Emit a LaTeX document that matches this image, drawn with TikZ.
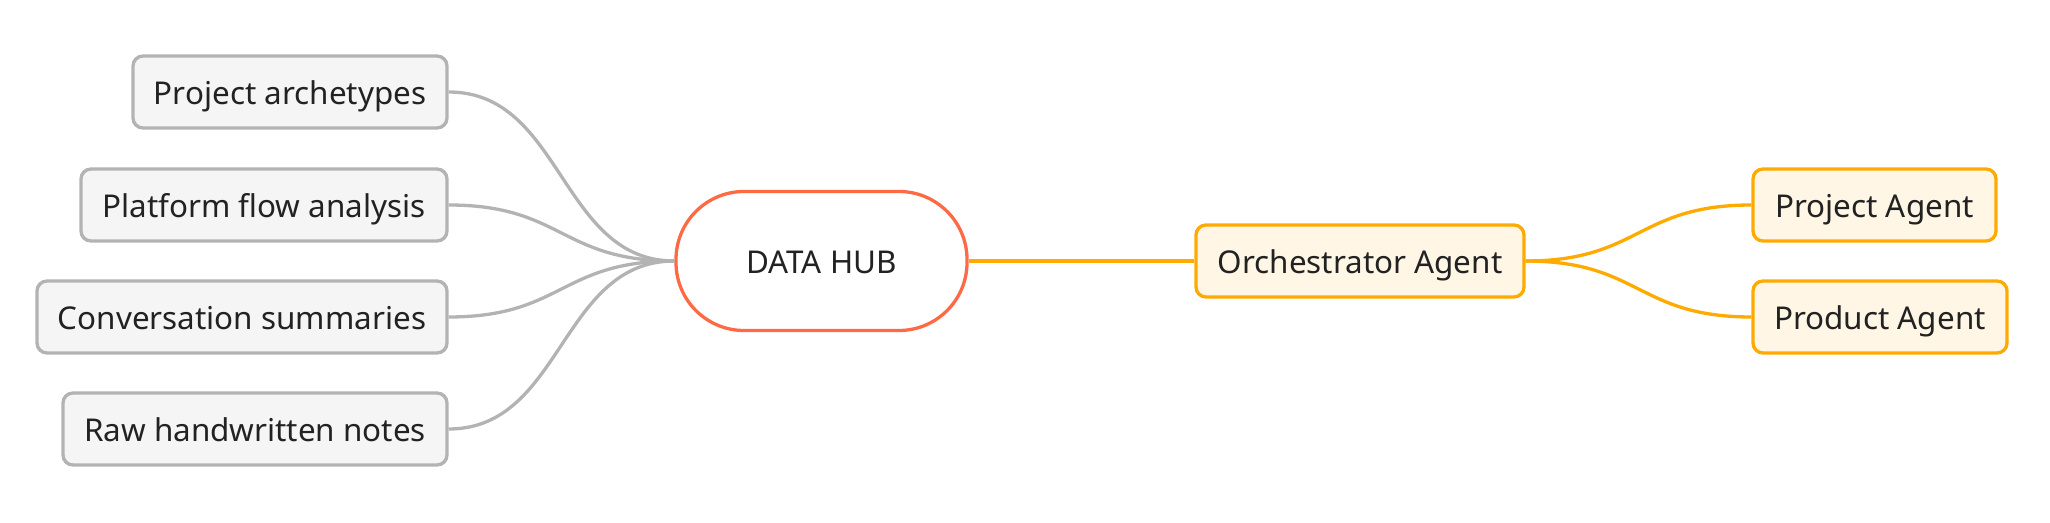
\documentclass[tikz,border=0pt]{standalone}
\usepackage{fontspec}
\setmainfont{Noto Sans}
\usetikzlibrary{positioning}
\definecolor{grayline}{HTML}{B3B3B3}
\definecolor{grayfill}{HTML}{F5F5F5}
\definecolor{hubline}{HTML}{FF6A45}
\definecolor{orline}{HTML}{FFAA00}
\definecolor{orfill}{HTML}{FFF6E5}
\definecolor{txt}{HTML}{222222}
\begin{document}
\begin{tikzpicture}[x=0.5pt,y=-0.5pt,
  base/.style={rectangle, rounded corners=5pt, line width=1.65pt, inner sep=0pt,
    minimum height=36pt, text=txt, font=\fontsize{15.7}{18}\selectfont,
    text height=16pt, text depth=3.8pt},
  leaf/.style={base, draw=grayline, fill=grayfill},
  agent/.style={base, draw=orline, fill=orfill},
  hubbox/.style={base, draw=hubline, fill=white, rounded corners=34pt, minimum height=69.5pt, minimum width=145.5pt},
  gedge/.style={draw=grayline, line width=1.65pt},
  oedge/.style={draw=orline, line width=1.65pt}]
\useasboundingbox (0,0) rectangle (2050,523);
\node[leaf, minimum width=157pt] (pa) at (290,92) {Project archetypes};
\node[leaf, minimum width=183pt] (pf) at (264,205) {Platform flow analysis};
\node[leaf, minimum width=205pt] (cs) at (242,317) {Conversation summaries};
\node[leaf, minimum width=192pt] (rh) at (255,429) {Raw handwritten notes};
\node[hubbox] (hub) at (821.5,261) {DATA HUB};
\node[agent, minimum width=164pt] (orc) at (1360,261) {Orchestrator Agent};
\node[agent, minimum width=121.5pt] (pja) at (1874.5,205) {Project Agent};
\node[agent, minimum width=127pt] (pda) at (1880,317) {Product Agent};
\foreach \n in {pa,pf,cs,rh}{
  \draw[gedge] (\n.east) .. controls +(114,0) and +(-114,0) .. (hub.west);
}
\draw[oedge] (hub.east) -- (orc.west);
\draw[oedge] (orc.east) .. controls +(114,0) and +(-114,0) .. (pja.west);
\draw[oedge] (orc.east) .. controls +(114,0) and +(-114,0) .. (pda.west);
\end{tikzpicture}
\end{document}
